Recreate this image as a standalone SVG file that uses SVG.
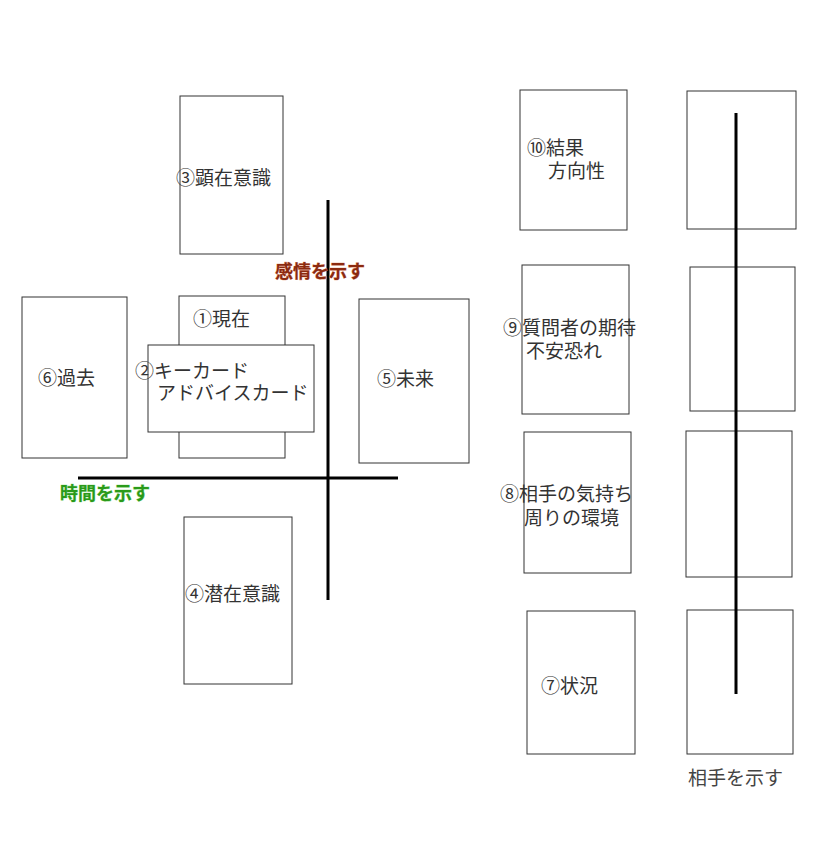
<svg xmlns="http://www.w3.org/2000/svg" width="826" height="853" viewBox="0 0 826 853">
<defs>
<style>
rect{fill:#fff;stroke:#333;stroke-width:1}
text{font-family:"Noto Sans CJK JP","Noto Sans",sans-serif;font-size:19px;fill:#333;dominant-baseline:middle}
.ax{stroke:#000;stroke-width:3}
.red{fill:#8b2a10;font-weight:bold;font-size:18px;stroke:#e8a080;stroke-width:0.6;paint-order:stroke}
.grn{fill:#2a9a1a;font-weight:bold;font-size:18px;stroke:#a0e090;stroke-width:0.6;paint-order:stroke}
</style>
</defs>
<rect width="826" height="853" style="fill:#fff;stroke:none"/>
<g id="n3"><rect x="180" y="96" width="103" height="158"/><text x="176" y="180">③顕在意識</text></g>
<g id="n1"><rect x="179" y="296" width="106" height="162"/><text x="193" y="321">①現在</text></g>
<g id="n2"><rect x="148" y="345" width="166" height="87"/><text x="135" y="373">②キーカード</text><text x="157" y="395">アドバイスカード</text></g>
<g id="n6"><rect x="22" y="297" width="105" height="161"/><text x="38" y="380">⑥過去</text></g>
<g id="n5"><rect x="359" y="299" width="110" height="164"/><text x="377" y="381">⑤未来</text></g>
<g id="n4"><rect x="184" y="517" width="108" height="167"/><text x="185" y="596">④潜在意識</text></g>
<g id="n10"><rect x="520" y="90" width="107" height="140"/><text x="527" y="150">⑩結果</text><text x="548" y="173">方向性</text></g>
<g id="n9"><rect x="522" y="265" width="107" height="149"/><text x="503" y="330">⑨質問者の期待</text><text x="526" y="353">不安恐れ</text></g>
<g id="n8"><rect x="524" y="432" width="107" height="141"/><text x="500" y="496">⑧相手の気持ち</text><text x="524" y="520">周りの環境</text></g>
<g id="n7"><rect x="527" y="611" width="108" height="143"/><text x="541" y="688">⑦状況</text></g>
<g id="r1"><rect x="687" y="91" width="109" height="138"/></g>
<g id="r2"><rect x="690" y="267" width="105" height="144"/></g>
<g id="r3"><rect x="686" y="431" width="106" height="146"/></g>
<g id="r4"><rect x="687" y="610" width="106" height="144"/></g>
<g id="connectors">
<line class="ax" x1="328" y1="200" x2="328" y2="600"/>
<line class="ax" x1="78" y1="478" x2="398" y2="478"/>
<line class="ax" x1="736" y1="113" x2="736" y2="694"/>
</g>
<text class="red" x="275" y="273">感情を示す</text>
<text class="grn" x="60" y="495">時間を示す</text>
<text x="688" y="780" style="fill:#444">相手を示す</text>
</svg>
